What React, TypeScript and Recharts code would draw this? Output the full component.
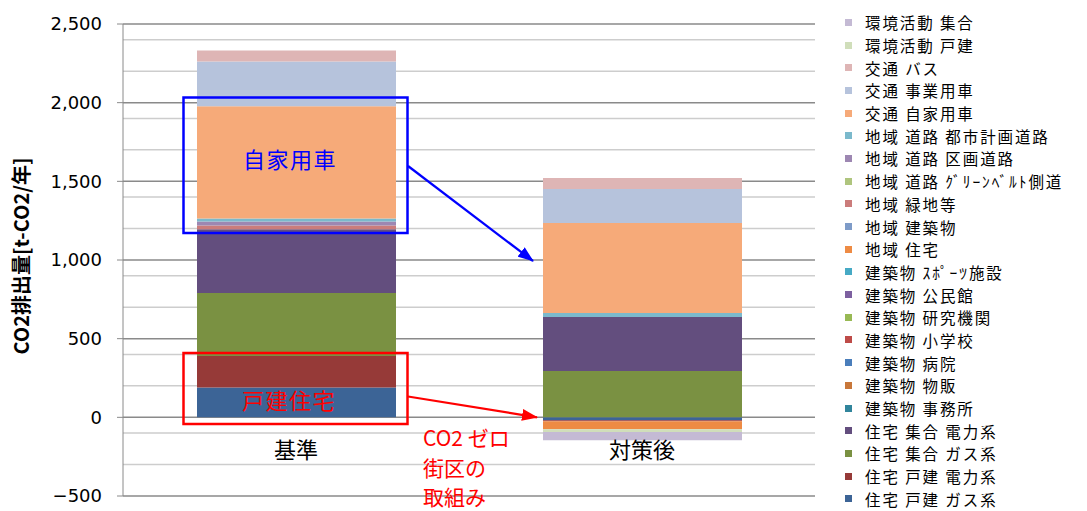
import { BarChart, Bar, XAxis, YAxis, CartesianGrid } from "recharts";

const categories = ["基準", "対策後"];

// stacking order, bottom first
const seriesNames = [
  "住宅 戸建 ガス系",
  "住宅 戸建 電力系",
  "住宅 集合 ガス系",
  "住宅 集合 電力系",
  "建築物 事務所",
  "建築物 物販",
  "建築物 病院",
  "建築物 小学校",
  "建築物 研究機関",
  "建築物 公民館",
  "建築物 ｽﾎﾟｰﾂ施設",
  "地域 住宅",
  "地域 建築物",
  "地域 緑地等",
  "地域 道路 ｸﾞﾘｰﾝﾍﾞﾙﾄ側道",
  "地域 道路 区画道路",
  "地域 道路 都市計画道路",
  "交通 自家用車",
  "交通 事業用車",
  "交通 バス",
  "環境活動 戸建",
  "環境活動 集合",
];

const seriesColors = [
  "#3C6496",
  "#963A38",
  "#7A9142",
  "#634E7E",
  "#31859C",
  "#C8773A",
  "#4A7EBB",
  "#BE4B48",
  "#98B954",
  "#7D60A0",
  "#46AAC5",
  "#EE8B44",
  "#7E9BC8",
  "#CB7C7B",
  "#AFC57E",
  "#9D87B2",
  "#7BB9CC",
  "#F6AA79",
  "#B6C3DC",
  "#DEB5B5",
  "#D0DEBA",
  "#C4BAD4",
];

const baseValues = [190, 200, 400, 405, 0, 0, 0, 0, 0, 0, 0, 0, 0, 24, 0, 25, 20, 714, 284, 70, 0, 0];
const planValues = [-18, -7, 294, 344, 0, 0, 0, 0, 0, 0, 0, -50, 0, 0, 0, 0, 25, 572, 216, 70, -19, -51];

const majorTicks = [-500, 0, 500, 1000, 1500, 2000, 2500];
const minorTicks = [-400, -300, -200, -100, 100, 200, 300, 400, 600, 700, 800, 900, 1100, 1200, 1300, 1400, 1600, 1700, 1800, 1900, 2100, 2200, 2300, 2400];

const data = categories.map((name, ci) => {
  const row: Record<string, string | number> = { name };
  const vals = ci === 0 ? baseValues : planValues;
  seriesNames.forEach((_, i) => {
    row["s" + i] = vals[i];
  });
  return row;
});

const jp = "'Noto Sans CJK JP', 'Noto Sans', sans-serif";

const formatTick = (v: number) =>
  v < 0 ? "\u2212" + Math.abs(v).toLocaleString("en-US") : v.toLocaleString("en-US");

// category labels sit next to the zero line, as in the original
const CategoryTick = (props: any) => {
  const { x, y, payload } = props;
  return (
    <text x={x} y={y} dy={-46} textAnchor="middle" fontSize={22} fontFamily={jp} fill="#000">
      {payload.value}
    </text>
  );
};

export default function App() {
  const legendItems = seriesNames.map((n, i) => ({ name: n, color: seriesColors[i] })).reverse();

  return (
    <div style={{ position: "absolute", left: 0, top: 0, width: 1087, height: 511, background: "#fff" }}>
      <BarChart
        width={830}
        height={511}
        data={data}
        stackOffset="sign"
        margin={{ top: 24, right: 15, bottom: 0, left: 0 }}
        barSize={199}
      >
        <CartesianGrid vertical={false} horizontalValues={minorTicks} stroke="#cdcdcd" strokeWidth={1.5} />
        <CartesianGrid vertical={false} horizontalValues={majorTicks} stroke="#8a8a8a" strokeWidth={1.5} />
        <XAxis dataKey="name" height={15} axisLine={false} tickLine={false} tick={<CategoryTick />} interval={0} />
        <YAxis
          width={123}
          domain={[-500, 2500]}
          ticks={majorTicks}
          tickFormatter={formatTick}
          axisLine={{ stroke: "#8a8a8a", strokeWidth: 1 }}
          tickLine={{ stroke: "#8a8a8a" }}
          tickSize={6}
          tickMargin={15}
          tick={{ fontSize: 18, fill: "#000", fontFamily: "'DejaVu Sans', sans-serif" }}
          allowDataOverflow
        />
        {seriesNames.map((n, i) => (
          <Bar key={n} dataKey={"s" + i} name={n} stackId="a" fill={seriesColors[i]} isAnimationActive={false} />
        ))}
      </BarChart>

      {/* legend */}
      <div style={{ position: "absolute", left: 845, top: 11, fontFamily: jp, fontSize: 15.5, lineHeight: "20px" }}>
        {legendItems.map((it) => (
          <div key={it.name} style={{ height: 22.7, display: "flex", alignItems: "center", whiteSpace: "nowrap" }}>
            <span style={{ width: 7, height: 7, background: it.color, display: "inline-block", marginRight: 13 }} />
            <span style={{ color: "#000", letterSpacing: 1.9, lineHeight: "20px" }}>{it.name}</span>
          </div>
        ))}
      </div>

      {/* annotations */}
      <svg width={1087} height={511} style={{ position: "absolute", left: 0, top: 0, pointerEvents: "none" }}>
        <defs>
          <marker id="ab" markerWidth="16" markerHeight="12" refX="15" refY="6" orient="auto" markerUnits="userSpaceOnUse">
            <path d="M0,0 L16,6 L0,12 z" fill="#0000ff" />
          </marker>
          <marker id="ar" markerWidth="16" markerHeight="12" refX="15" refY="6" orient="auto" markerUnits="userSpaceOnUse">
            <path d="M0,0 L16,6 L0,12 z" fill="#ff0000" />
          </marker>
        </defs>
        <text
          transform="translate(29,256) rotate(-90)"
          textAnchor="middle"
          fontSize={20}
          fontWeight="bold"
          fontFamily={jp}
          fill="#000"
        >
          CO2排出量[t-CO2/年]
        </text>
        <rect x={183.5} y={97.5} width={224} height={135.5} fill="none" stroke="#0000ff" strokeWidth={2.5} />
        <text x={290} y={168} textAnchor="middle" fontSize={22} fontFamily={jp} fill="#0000ff" letterSpacing={1.5}>
          自家用車
        </text>
        <line x1={408} y1={166} x2={533} y2={261} stroke="#0000ff" strokeWidth={2.2} markerEnd="url(#ab)" />
        <rect x={183.5} y={353} width={224} height={71} fill="none" stroke="#ff0000" strokeWidth={2.5} />
        <text x={289} y={409} textAnchor="middle" fontSize={22} fontFamily={jp} fill="#ff0000" letterSpacing={1.5}>
          戸建住宅
        </text>
        <line x1={408} y1={396.5} x2={537} y2={417.3} stroke="#ff0000" strokeWidth={2.2} markerEnd="url(#ar)" />
        <g fontSize={21} fontFamily={jp} fill="#ff0000">
          <text x={423} y={446}>CO2 ゼロ</text>
          <text x={423} y={476}>街区の</text>
          <text x={423} y={505}>取組み</text>
        </g>
      </svg>
    </div>
  );
}
